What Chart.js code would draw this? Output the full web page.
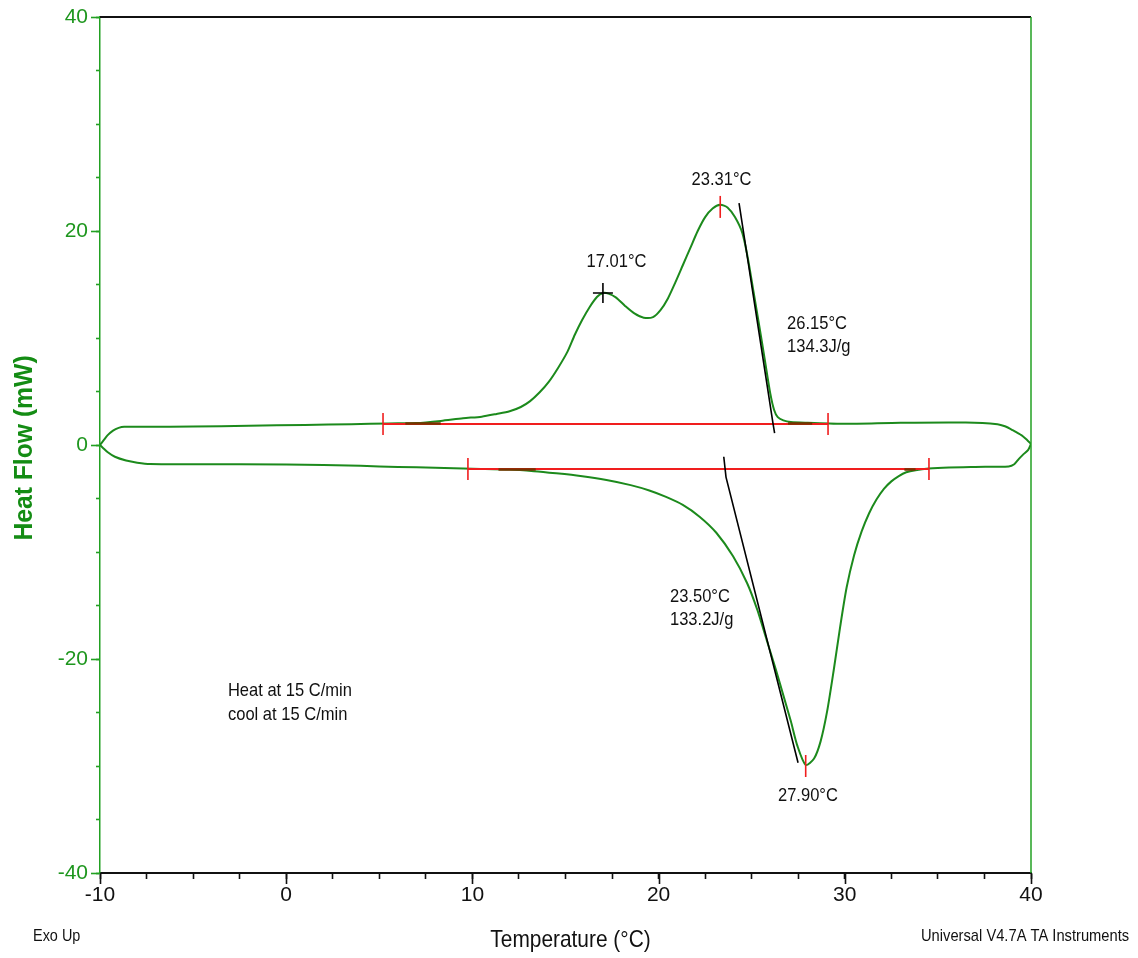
<!DOCTYPE html>
<html>
<head>
<meta charset="utf-8">
<title>DSC heat / cool cycle</title>
<script src="https://cdn.jsdelivr.net/npm/chart.js@4.4.1/dist/chart.umd.min.js"></script>
<style>
  html, body { margin: 0; padding: 0; background: #ffffff; }
  #wrap { width: 1138px; height: 958px; }
</style>
</head>
<body>
<div id="wrap"><canvas id="dsc" width="1138" height="958"></canvas></div>
<script>
// ---- Heating run (15 C/min), temperature in °C and heat flow in mW ----
const heatT = [-10, -9.8, -9.6, -9.3, -9.0, -8.7, -5, -2, 1, 3.5, 5.5, 7.0, 8.3, 9.5, 10.5,
  11.3, 12.0, 12.6, 13.1, 13.6, 14.1, 14.6, 15.1, 15.5, 15.9, 16.3, 16.7, 17.01, 17.3, 17.7,
  18.2, 18.7, 19.2, 19.7, 20.1, 20.5, 20.9, 21.3, 21.7, 22.1, 22.5, 22.9, 23.31, 23.7, 24.1,
  24.5, 24.8, 25.1, 25.4, 25.7, 26.0, 26.2, 26.4, 26.7, 27.1, 28.0, 30.0, 33.0, 36.5, 38.2,
  38.6, 39.0, 39.5, 39.8, 40];
const heatMW = [0, 0.45, 0.9, 1.35, 1.6, 1.7, 1.72, 1.8, 1.87, 1.95, 2.02, 2.05, 2.25, 2.5, 2.65,
  2.9, 3.15, 3.55, 4.1, 4.9, 5.9, 7.2, 8.7, 10.3, 11.7, 12.9, 13.85, 14.2, 14.15, 13.8,
  13.0, 12.3, 11.9, 11.95, 12.6, 13.7, 15.2, 16.8, 18.4, 20.0, 21.3, 22.1, 22.45, 22.2, 21.3,
  19.8, 17.4, 14.3, 11.2, 8.0, 4.8, 3.3, 2.6, 2.3, 2.15, 2.08, 1.98, 2.08, 2.1, 1.95,
  1.75, 1.4, 0.9, 0.45, 0.1];

// ---- Cooling run (15 C/min), traversed from 40 °C back to -10 °C ----
const coolT = [40, 39.85, 39.6, 39.35, 39.1, 38.8, 37.0, 35.6, 34.5, 33.8, 33.3, 32.9, 32.5,
  32.1, 31.7, 31.3, 30.9, 30.5, 30.1, 29.75, 29.4, 29.05, 28.7, 28.35, 27.9, 27.45, 27.1,
  26.7, 26.3, 25.8, 25.3, 24.75, 24.0, 23.1, 22.2, 21.3, 20.4, 19.5, 18.5, 17.2, 15.8, 14.5,
  13.3, 12.0, 10.0, 8.0, 6.0, 4.0, 0, -5, -7.3, -8.0, -8.6, -9.2, -9.6, -9.85, -10];
const coolMW = [0.1, -0.45, -0.85, -1.3, -1.8, -2.0, -2.05, -2.1, -2.2, -2.35, -2.55, -2.9, -3.4,
  -4.1, -5.1, -6.4, -8.1, -10.3, -13.3, -17.0, -21.1, -24.9, -27.7, -29.3, -29.9, -28.1, -25.8,
  -23.4, -21.0, -18.2, -15.4, -12.9, -10.4, -8.2, -6.7, -5.6, -4.85, -4.25, -3.75, -3.27, -2.9, -2.65,
  -2.45, -2.3, -2.22, -2.12, -2.05, -1.95, -1.82, -1.8, -1.78, -1.65, -1.45, -1.1, -0.65, -0.25, 0];

// ---- Integration baselines: [start °C, end °C, level mW] ----
const heatBase = [5.2, 29.1, 1.96];
const coolBase = [9.76, 34.52, -2.24];
// baseline fit regions (°C ranges) on each run
const heatFitT = [[6.4, 8.3], [26.95, 28.25]];
const coolFitT = [[11.4, 13.4], [33.2, 33.8]];

// ---- Peaks and onsets ----
const shoulderPeak = { t: 17.01, mw: 14.2 };
const meltPeak = { t: 23.31, mw: 22.45 };
const crystPeak = { t: 27.90, mw: -29.9 };
const meltOnset = 26.15;
const crystOnset = 23.50;
// tangent segments through each onset (°C, mW)
const meltTangentT = [24.32, meltOnset, 26.23];
const meltTangentMW = [22.6, heatBase[2], 1.1];
const crystTangentT = [crystOnset, 23.62, 27.49];
const crystTangentMW = [-1.1, -3.0, -29.7];

// ---- Axis ticks ----
const xMajor = [-10, 0, 10, 20, 30, 40];
const yMajor = [-40, -20, 0, 20, 40];

// ---- Text notes: label, °C, mW, alignment ----
const noteText  = ['17.01°C', '23.31°C', '26.15°C', '134.3J/g', '23.50°C', '133.2J/g', '27.90°C',
  'Heat at 15 C/min', 'cool at 15 C/min'];
const noteT     = [17.74, 23.38, 26.90, 26.90, 20.61, 20.61, 28.02, -3.13, -3.13];
const noteMW    = [17.15, 24.75, 11.35, 9.15, -14.15, -16.35, -32.8, -22.95, -25.2];
const noteAlign = ['center', 'center', 'left', 'left', 'left', 'left', 'center', 'left', 'left'];

const FONT = '"Liberation Sans", Arial, Helvetica, sans-serif';
const GREEN = 'rgb(28, 138, 28)';
const AXIS_GREEN = 'rgb(34, 160, 34)';
const RED = 'rgb(240, 30, 30)';
const FIT = 'rgb(120, 50, 0)';

const toPts = (xs, ys) => xs.map((x, i) => ({ x, y: ys[i] }));
const seg = (a, b, level) => [{ x: a, y: level }, { x: b, y: level }];

const datasets = [
  // red integration baselines
  { label: 'heat baseline', data: seg(heatBase[0], heatBase[1], heatBase[2]),
    borderColor: RED, borderWidth: 2, showLine: true, pointRadius: 0, order: 5 },
  { label: 'cool baseline', data: seg(coolBase[0], coolBase[1], coolBase[2]),
    borderColor: RED, borderWidth: 2, showLine: true, pointRadius: 0, order: 5 },
  // measured curves
  { label: 'heating', data: toPts(heatT, heatMW), borderColor: GREEN, borderWidth: 2,
    showLine: true, pointRadius: 0, tension: 0.25, order: 6 },
  { label: 'cooling', data: toPts(coolT, coolMW), borderColor: GREEN, borderWidth: 2,
    showLine: true, pointRadius: 0, tension: 0.25, order: 6 },
];
// baseline fit regions
heatFitT.forEach(r => datasets.push({ label: 'fit', data: seg(r[0], r[1], heatBase[2] + 0.05),
  borderColor: FIT, borderWidth: 2.5, showLine: true, pointRadius: 0, order: 4 }));
coolFitT.forEach(r => datasets.push({ label: 'fit', data: seg(r[0], r[1], coolBase[2] - 0.05),
  borderColor: FIT, borderWidth: 2.5, showLine: true, pointRadius: 0, order: 4 }));
datasets.push(
  // tangents through the onsets
  { label: 'melt tangent', data: toPts(meltTangentT, meltTangentMW), borderColor: '#000',
    borderWidth: 1.6, showLine: true, pointRadius: 0, order: 2 },
  { label: 'cryst tangent', data: toPts(crystTangentT, crystTangentMW), borderColor: '#000',
    borderWidth: 1.6, showLine: true, pointRadius: 0, order: 2 },
  // red end / peak markers
  { label: 'limits', data: [
      { x: heatBase[0], y: heatBase[2] }, { x: heatBase[1], y: heatBase[2] },
      { x: coolBase[0], y: coolBase[2] }, { x: coolBase[1], y: coolBase[2] },
      { x: meltPeak.t, y: meltPeak.mw - 0.2 }, { x: crystPeak.t, y: crystPeak.mw - 0.1 }],
    showLine: false, pointStyle: 'line', pointRotation: 90, pointRadius: 11,
    pointBorderColor: RED, pointBorderWidth: 1.6, pointBackgroundColor: RED, order: 1 },
  // shoulder peak cross
  { label: 'shoulder', data: [{ x: shoulderPeak.t, y: shoulderPeak.mw }], showLine: false,
    pointStyle: 'cross', pointRadius: 10, pointBorderColor: '#000', pointBorderWidth: 1.6,
    order: 1 }
);

// text drawn slightly condensed, as the instrument software prints it
function condensedText(ctx, text, x, y, o) {
  ctx.save();
  ctx.translate(x, y);
  if (o.rotate) ctx.rotate(o.rotate);
  ctx.scale(o.sx || 1, 1);
  ctx.font = (o.weight || 'normal') + ' ' + o.size + 'px ' + FONT;
  ctx.fillStyle = o.color || '#111';
  ctx.textAlign = o.align || 'left';
  ctx.textBaseline = 'middle';
  ctx.fillText(text, 0, 0);
  ctx.restore();
}

const frameAndNotes = {
  id: 'frameAndNotes',
  afterDraw(chart) {
    const { ctx, chartArea: a, scales: { x, y } } = chart;
    ctx.save();
    // top frame edge (black) and right frame edge (green)
    ctx.lineWidth = 2;
    ctx.strokeStyle = '#111';
    ctx.beginPath(); ctx.moveTo(a.left, a.top); ctx.lineTo(a.right, a.top); ctx.stroke();
    ctx.strokeStyle = AXIS_GREEN;
    ctx.lineWidth = 1.5;
    ctx.beginPath(); ctx.moveTo(a.right, a.top); ctx.lineTo(a.right, a.bottom); ctx.stroke();
    // longer marks at the labelled ticks
    ctx.strokeStyle = '#111';
    ctx.lineWidth = 1.6;
    xMajor.forEach(v => {
      const px = Math.round(x.getPixelForValue(v)) + 0.5;
      ctx.beginPath(); ctx.moveTo(px, a.bottom); ctx.lineTo(px, a.bottom + 11); ctx.stroke();
    });
    ctx.strokeStyle = AXIS_GREEN;
    yMajor.forEach(v => {
      const py = Math.round(y.getPixelForValue(v)) + 0.5;
      ctx.beginPath(); ctx.moveTo(a.left - 9, py); ctx.lineTo(a.left, py); ctx.stroke();
    });
    ctx.restore();

    // annotations in data coordinates
    noteText.forEach((t, i) => condensedText(ctx, t, x.getPixelForValue(noteT[i]),
      y.getPixelForValue(noteMW[i]), { size: 19, sx: 0.87, align: noteAlign[i] }));

    // axis titles
    condensedText(ctx, 'Temperature (°C)', (a.left + a.right) / 2 + 5, 940,
      { size: 24, sx: 0.87, align: 'center' });
    condensedText(ctx, 'Heat Flow (mW)', 25, (a.top + a.bottom) / 2 + 3,
      { size: 26, sx: 0.95, weight: 'bold', align: 'center', rotate: -Math.PI / 2,
        color: 'rgb(20, 140, 20)' });

    // footer
    condensedText(ctx, 'Exo Up', 33, 936, { size: 17, sx: 0.85 });
    condensedText(ctx, 'Universal V4.7A TA Instruments', 921, 936, { size: 17, sx: 0.865 });
  }
};

new Chart(document.getElementById('dsc'), {
  type: 'scatter',
  data: { datasets },
  options: {
    responsive: false,
    animation: false,
    layout: { padding: { top: 17, right: 107, left: 0, bottom: 0 } },
    plugins: { legend: { display: false }, tooltip: { enabled: false } },
    scales: {
      x: {
        type: 'linear', min: -10, max: 40,
        afterFit: s => { s.height = 85; s.paddingLeft = 0; s.paddingRight = 0; },
        border: { color: '#111', width: 2 },
        grid: { drawOnChartArea: false, drawTicks: true, tickLength: 6, tickColor: '#111', tickWidth: 1.6 },
        ticks: {
          stepSize: 2.5, autoSkip: false, maxRotation: 0, padding: 4, color: '#111',
          font: { family: FONT, size: 21 },
          callback: v => (xMajor.includes(v) ? String(v) : '')
        }
      },
      y: {
        type: 'linear', min: -40, max: 40,
        afterFit: s => { s.width = 100; s.paddingTop = 0; s.paddingBottom = 0; },
        border: { color: AXIS_GREEN, width: 1.5 },
        grid: { drawOnChartArea: false, drawTicks: true, tickLength: 4, tickColor: AXIS_GREEN, tickWidth: 1.6 },
        ticks: {
          stepSize: 5, autoSkip: false, padding: 8, color: 'rgb(30, 150, 30)',
          font: { family: FONT, size: 21 },
          callback: v => (yMajor.includes(v) ? String(v) : '')
        }
      }
    }
  },
  plugins: [frameAndNotes]
});
</script>
</body>
</html>
